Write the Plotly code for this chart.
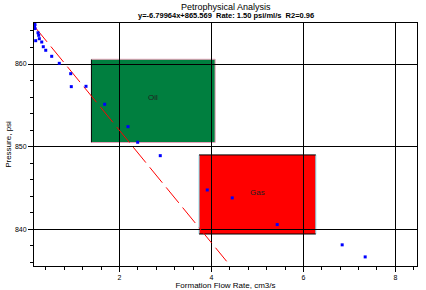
import plotly.graph_objects as go

# ---- data ----
flow_rate = [0.152, 0.152, 0.163, 0.163, 0.228, 0.243, 0.257, 0.178, 0.309, 0.343,
             0.396, 0.526, 0.691, 0.939, 0.952, 1.272, 1.678, 2.185, 2.396, 2.887,
             3.909, 4.452, 5.430, 6.843, 7.343]
pressure = [864.90, 864.59, 864.75, 864.29, 863.78, 863.47, 863.06, 862.82, 862.66, 862.09,
            861.66, 860.93, 860.08, 858.83, 857.26, 857.30, 855.13, 852.42, 850.53, 848.91,
            844.76, 843.80, 840.57, 838.12, 836.66]

slope = -6.79964
intercept = 865.569
fit_x = [0.15, 4.33]
fit_y = [slope * v + intercept for v in fit_x]

zone_names = ["Oil", "Gas"]
zone_x0 = [1.39, 3.73]
zone_x1 = [4.08, 6.27]
zone_y0 = [850.5, 839.43]
zone_y1 = [860.57, 849.0]
zone_label_x = [2.73, 5.0]
zone_label_y = [855.9, 844.5]
zone_fill = ["#007f3f", "#ff0000"]

x_ticks = [2, 4, 6, 8]
y_ticks = [840, 850, 860]

FONT = "Liberation Sans, Arial, sans-serif"

fig = go.Figure()

fig.add_trace(go.Scatter(x=fit_x, y=fit_y, mode="lines",
                         line=dict(color="#ff0000", width=1, dash="20px,6px"),
                         hoverinfo="skip"))
fig.add_trace(go.Scatter(x=flow_rate, y=pressure, mode="markers",
                         marker=dict(symbol="square", size=3, color="#0000ff",
                                     line=dict(width=0))))

# zones
for i, name in enumerate(zone_names):
    fig.add_shape(type="rect", layer="below", x0=zone_x0[i], x1=zone_x1[i],
                  y0=zone_y0[i], y1=zone_y1[i], fillcolor=zone_fill[i],
                  line=dict(width=0))
    fig.add_annotation(x=zone_label_x[i], y=zone_label_y[i], text=name, showarrow=False,
                       font=dict(family=FONT, size=8, color="#202020"))

# zone borders
fig.add_shape(type="line", layer="below", x0=zone_x0[0], x1=zone_x0[0], y0=zone_y0[0], y1=zone_y1[0],
              line=dict(color="black", width=1))
for (xa, xb, ya, yb) in [(zone_x0[0], zone_x1[0], zone_y1[0], zone_y1[0]),
                         (zone_x1[0], zone_x1[0], zone_y0[0], zone_y1[0]),
                         (zone_x0[0], zone_x1[0], zone_y0[0], zone_y0[0])]:
    fig.add_shape(type="line", layer="below", x0=xa, x1=xb, y0=ya, y1=yb,
                  line=dict(color="#e8a0b8", width=1))
for (xa, xb, ya, yb) in [(zone_x0[1], zone_x0[1], zone_y0[1], zone_y1[1]),
                         (zone_x1[1], zone_x1[1], zone_y0[1], zone_y1[1])]:
    fig.add_shape(type="line", layer="below", x0=xa, x1=xb, y0=ya, y1=yb,
                  line=dict(color="#80e0f0", width=1))
for (xa, xb, ya, yb) in [(zone_x0[1], zone_x1[1], zone_y1[1], zone_y1[1]),
                         (zone_x0[1], zone_x1[1], zone_y0[1], zone_y0[1])]:
    fig.add_shape(type="line", layer="below", x0=xa, x1=xb, y0=ya, y1=yb,
                  line=dict(color="black", width=1))

# titles
fig.add_annotation(xref="paper", yref="paper", x=0.5, y=1.066, yanchor="middle",
                   text="Petrophysical Analysis", showarrow=False,
                   font=dict(family=FONT, size=9, color="black"))
fig.add_annotation(xref="paper", yref="paper", x=0.5, y=1.029, yanchor="middle",
                   text="<b>y=-6.79964x+865.569  Rate: 1.50 psi/ml/s  R2=0.96</b>", showarrow=False,
                   font=dict(family=FONT, size=7.5, color="black"))

axis_common = dict(showline=True, linecolor="black", linewidth=1, mirror=True,
                   showgrid=True, gridcolor="black", gridwidth=1, zeroline=False,
                   ticks="outside", tickcolor="black", ticklen=5, tickwidth=1,
                   automargin=False,
                   tickfont=dict(family=FONT, size=7, color="black"))

fig.update_xaxes(range=[0.141, 8.47], tickvals=x_ticks, ticktext=[str(v) for v in x_ticks],
                 minor=dict(dtick=0.4, tick0=0, ticks="outside", ticklen=3,
                            tickcolor="black", showgrid=False),
                 title=dict(text="Formation Flow Rate, cm3/s", standoff=0,
                            font=dict(family=FONT, size=8, color="black")),
                 **axis_common)
fig.update_yaxes(range=[835.56, 864.96], tickvals=y_ticks, ticktext=[str(v) for v in y_ticks],
                 minor=dict(dtick=2, tick0=0, ticks="outside", ticklen=3,
                            tickcolor="black", showgrid=False),
                 title=dict(text="Pressure, psi", standoff=2,
                            font=dict(family=FONT, size=8, color="black")),
                 **axis_common)

fig.update_layout(width=426, height=290, margin=dict(l=34, r=9, t=23, b=24),
                  paper_bgcolor="white", plot_bgcolor="white", showlegend=False)

fig.write_html("out.html")
